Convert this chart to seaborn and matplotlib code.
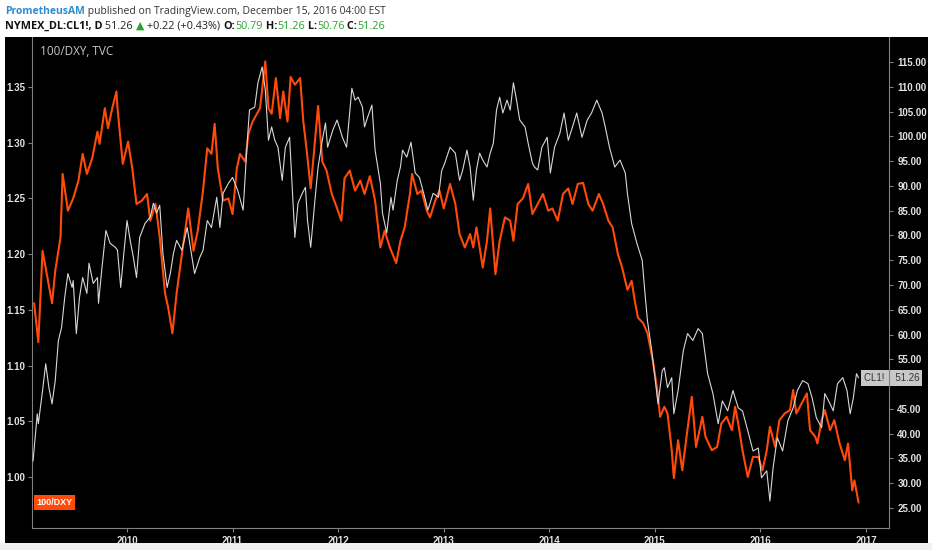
import numpy as np
import seaborn as sns
import matplotlib.pyplot as plt
from matplotlib.patches import Rectangle

# 100/DXY (left axis), decimal years
dxy_t = [2009.12, 2009.16, 2009.20, 2009.24, 2009.29, 2009.32, 2009.37, 2009.39, 2009.44, 2009.49, 2009.54,
         2009.58, 2009.62, 2009.67, 2009.72, 2009.74, 2009.79, 2009.82, 2009.86, 2009.90, 2009.91, 2009.96,
         2010.01, 2010.05, 2010.09, 2010.14, 2010.19, 2010.22, 2010.27, 2010.31, 2010.36, 2010.39, 2010.43,
         2010.47, 2010.52, 2010.58, 2010.63, 2010.67, 2010.72, 2010.76, 2010.80, 2010.83, 2010.86, 2010.91, 2010.96,
         2011.00, 2011.04, 2011.07, 2011.12, 2011.15, 2011.19, 2011.26, 2011.31, 2011.34, 2011.37, 2011.41, 2011.45,
         2011.48, 2011.52, 2011.55, 2011.59, 2011.64, 2011.67, 2011.70, 2011.74, 2011.78, 2011.81, 2011.85, 2011.89,
         2011.94, 2011.99,
         2012.03, 2012.06, 2012.11, 2012.16, 2012.21, 2012.25, 2012.30, 2012.35, 2012.40, 2012.44, 2012.49,
         2012.55, 2012.59, 2012.63, 2012.68, 2012.70, 2012.75, 2012.79, 2012.84, 2012.87, 2012.92, 2012.96,
         2013.00, 2013.06, 2013.11, 2013.15, 2013.20, 2013.25, 2013.28, 2013.31, 2013.34, 2013.37, 2013.41,
         2013.44, 2013.47, 2013.49, 2013.53, 2013.58, 2013.63, 2013.66, 2013.70, 2013.75, 2013.80, 2013.84,
         2013.89, 2013.94, 2013.99,
         2014.03, 2014.08, 2014.13, 2014.18, 2014.22, 2014.27, 2014.32, 2014.37, 2014.41, 2014.47, 2014.51,
         2014.56, 2014.60, 2014.65, 2014.69, 2014.74, 2014.78, 2014.81, 2014.84, 2014.89, 2014.93, 2014.98,
         2015.02, 2015.05, 2015.09, 2015.12, 2015.16, 2015.18, 2015.22, 2015.26, 2015.30, 2015.35, 2015.39,
         2015.45, 2015.48, 2015.54, 2015.59, 2015.63, 2015.68, 2015.73, 2015.76, 2015.79, 2015.83, 2015.88,
         2015.93, 2015.98,
         2016.02, 2016.06, 2016.09, 2016.14, 2016.18, 2016.23, 2016.28, 2016.31, 2016.34, 2016.39, 2016.44,
         2016.47, 2016.52, 2016.54, 2016.58, 2016.61, 2016.66, 2016.70, 2016.75, 2016.80, 2016.83, 2016.87,
         2016.89, 2016.93]
dxy_v = [1.156, 1.121, 1.203, 1.182, 1.156, 1.185, 1.215, 1.272, 1.239, 1.250, 1.266,
         1.290, 1.272, 1.286, 1.310, 1.299, 1.331, 1.313, 1.331, 1.346, 1.331, 1.281,
         1.301, 1.277, 1.245, 1.248, 1.254, 1.230, 1.245, 1.215, 1.165, 1.152, 1.129,
         1.165, 1.200, 1.241, 1.203, 1.221, 1.257, 1.295, 1.290, 1.317, 1.277, 1.248, 1.250,
         1.236, 1.277, 1.290, 1.283, 1.308, 1.319, 1.331, 1.373, 1.331, 1.326, 1.358, 1.322,
         1.346, 1.319, 1.359, 1.352, 1.358, 1.319, 1.295, 1.259, 1.301, 1.333, 1.283, 1.275,
         1.254, 1.241,
         1.230, 1.268, 1.275, 1.257, 1.266, 1.254, 1.270, 1.248, 1.206, 1.221, 1.206,
         1.192, 1.212, 1.224, 1.254, 1.272, 1.254, 1.257, 1.239, 1.233, 1.248, 1.257,
         1.241, 1.263, 1.245, 1.218, 1.206, 1.218, 1.206, 1.224, 1.206, 1.188, 1.212,
         1.241, 1.206, 1.182, 1.212, 1.233, 1.230, 1.212, 1.245, 1.250, 1.263, 1.236,
         1.245, 1.254, 1.239,
         1.241, 1.230, 1.254, 1.259, 1.245, 1.263, 1.264, 1.245, 1.239, 1.254, 1.245,
         1.230, 1.224, 1.200, 1.188, 1.168, 1.176, 1.158, 1.143, 1.138, 1.129, 1.105,
         1.080, 1.054, 1.063, 1.057, 1.024, 0.999, 1.033, 1.006, 1.036, 1.072, 1.027,
         1.054, 1.036, 1.024, 1.027, 1.048, 1.054, 1.042, 1.063, 1.048, 1.024, 1.000,
         1.018, 1.018,
         1.006, 1.024, 1.045, 1.027, 1.051, 1.057, 1.060, 1.078, 1.057, 1.066, 1.075,
         1.042, 1.036, 1.030, 1.051, 1.060, 1.042, 1.051, 1.030, 1.015, 1.030, 0.988,
         0.997, 0.977]

# NYMEX_DL:CL1! (right axis)
cl_t = [2009.11, 2009.15, 2009.16, 2009.20, 2009.23, 2009.26, 2009.29, 2009.32, 2009.35, 2009.38,
        2009.41, 2009.44, 2009.48, 2009.49, 2009.52, 2009.55, 2009.58, 2009.62, 2009.64, 2009.68,
        2009.72, 2009.73, 2009.76, 2009.80, 2009.84, 2009.89, 2009.91, 2009.94, 2009.97,
        2010.00, 2010.03, 2010.06, 2010.09, 2010.12, 2010.17, 2010.22, 2010.25, 2010.28, 2010.31,
        2010.34, 2010.38, 2010.41, 2010.44, 2010.47, 2010.52, 2010.57, 2010.60, 2010.64, 2010.69,
        2010.72, 2010.76, 2010.80, 2010.85, 2010.88, 2010.91, 2010.96,
        2011.00, 2011.05, 2011.10, 2011.14, 2011.16, 2011.21, 2011.24, 2011.28, 2011.31, 2011.34,
        2011.37, 2011.40, 2011.43, 2011.47, 2011.50, 2011.54, 2011.59, 2011.62, 2011.66, 2011.69,
        2011.71, 2011.74, 2011.78, 2011.81, 2011.85, 2011.88, 2011.90, 2011.95, 2011.99,
        2012.04, 2012.08, 2012.13, 2012.16, 2012.19, 2012.23, 2012.25, 2012.28, 2012.32, 2012.35,
        2012.40, 2012.42, 2012.46, 2012.50, 2012.52, 2012.56, 2012.59, 2012.61, 2012.65, 2012.69,
        2012.73, 2012.77, 2012.82, 2012.85, 2012.90, 2012.95, 2012.98,
        2013.01, 2013.06, 2013.11, 2013.15, 2013.18, 2013.22, 2013.25, 2013.28, 2013.31, 2013.34,
        2013.37, 2013.41, 2013.44, 2013.47, 2013.50, 2013.53, 2013.56, 2013.60, 2013.63, 2013.66,
        2013.69, 2013.72, 2013.77, 2013.80, 2013.84, 2013.86, 2013.89, 2013.93, 2013.98,
        2014.01, 2014.05, 2014.10, 2014.14, 2014.18, 2014.22, 2014.26, 2014.31, 2014.36, 2014.40,
        2014.45, 2014.50, 2014.53, 2014.57, 2014.62, 2014.67, 2014.72, 2014.74, 2014.78, 2014.83,
        2014.88, 2014.91, 2014.93, 2014.97,
        2015.00, 2015.03, 2015.07, 2015.09, 2015.12, 2015.16, 2015.18, 2015.22, 2015.27, 2015.31,
        2015.36, 2015.41, 2015.45, 2015.50, 2015.55, 2015.60, 2015.64, 2015.69, 2015.74, 2015.79,
        2015.83, 2015.88, 2015.93, 2015.98,
        2016.01, 2016.06, 2016.09, 2016.12, 2016.16, 2016.21, 2016.26, 2016.31, 2016.35, 2016.40,
        2016.45, 2016.49, 2016.53, 2016.58, 2016.61, 2016.66, 2016.69, 2016.73, 2016.78, 2016.82,
        2016.85, 2016.88, 2016.91, 2016.93]
cl_v = [34.5, 44.0, 42.0, 48.7, 54.1, 49.3, 46.0, 50.7, 58.8, 61.4,
        67.5, 72.3, 69.5, 70.9, 60.2, 67.5, 71.5, 68.3, 74.4, 70.3,
        71.5, 66.3, 72.9, 81.0, 78.4, 77.6, 77.0, 69.5, 76.4,
        83.0, 79.0, 75.6, 71.5, 79.6, 82.4, 83.7, 86.5, 84.5, 86.1,
        76.4, 69.5, 72.3, 76.4, 79.0, 77.0, 81.6, 77.6, 72.3, 75.6,
        77.0, 83.0, 81.6, 87.7, 81.6, 88.5, 90.5,
        91.7, 89.0, 85.1, 99.2, 105.3, 105.9, 110.8, 114.0, 109.3, 99.2,
        101.9, 99.2, 97.8, 91.1, 97.8, 99.8, 79.6, 86.5, 88.5, 89.7,
        83.0, 77.6, 87.1, 93.8, 99.2, 102.7, 97.8, 101.3, 103.3,
        99.8, 97.8, 109.7, 107.3, 107.9, 105.9, 101.9, 103.9, 106.3, 97.2,
        90.5, 84.5, 80.5, 87.7, 85.1, 91.1, 93.8, 97.2, 95.8, 98.8,
        92.6, 91.7, 87.7, 85.1, 88.5, 87.7, 93.0,
        94.6, 97.8, 96.6, 91.1, 93.2, 97.2, 93.8, 87.1, 93.2, 96.6,
        95.2, 93.8, 96.6, 98.6, 105.3, 107.9, 104.7, 107.3, 105.3, 110.8,
        107.3, 103.3, 101.9, 98.6, 94.6, 93.8, 93.2, 97.8, 99.8,
        92.6, 97.8, 100.6, 104.7, 99.2, 101.9, 104.7, 99.8, 103.3, 104.7,
        107.3, 104.7, 101.9, 97.8, 93.8, 95.2, 92.6, 88.5, 82.4, 78.4,
        75.0, 67.5, 62.8, 56.8,
        51.5, 46.0, 52.7, 53.3, 49.3, 51.3, 44.0, 48.7, 56.8, 60.2,
        58.8, 61.2, 60.2, 52.1, 48.1, 42.0, 46.6, 44.6, 48.7, 45.2,
        44.6, 40.6, 36.5, 37.1,
        31.1, 32.5, 26.4, 33.1, 39.2, 36.5, 42.6, 45.2, 48.7, 50.7,
        50.1, 47.2, 43.2, 41.2, 48.1, 46.0, 44.6, 50.1, 51.3, 48.7,
        44.0, 47.2, 52.1, 51.26]

year_ticks = [2010, 2011, 2012, 2013, 2014, 2015, 2016, 2017]
left_ticks = [1.00, 1.05, 1.10, 1.15, 1.20, 1.25, 1.30, 1.35]
right_ticks = list(range(25, 116, 5))

sns.set_style("ticks")
plt.rcParams['font.family'] = ['Open Sans', 'DejaVu Sans']

W, H = 932, 550
fig = plt.figure(figsize=(W / 100, H / 100), dpi=100, facecolor='white')

# background layer: black chart area + header text
bg = fig.add_axes([0, 0, 1, 1])
bg.set_xlim(0, 1)
bg.set_ylim(0, 1)
bg.axis('off')
bg.add_patch(Rectangle((0, 0), 1, 7 / H, color='#eef0f3', lw=0))
bg.add_patch(Rectangle((5 / W, 7 / H), 923 / W, 506 / H, color='black', lw=0))

hdr = dict(fontsize=7.5, va='bottom', ha='left')
t = bg.text(5 / W, 1 - 17 / H, 'PrometheusAM', color='#2d8bd0', fontweight='bold', **hdr)
bg.annotate(' published on TradingView.com, December 15, 2016 04:00 EST', xy=(1, 0), xycoords=t,
            color='#333333', **hdr)

green = '#26a42b'
parts = [('NYMEX_DL:CL1!, D', '#111111', 'bold'), (' 51.26 ', '#222222', 'normal'),
         ('▲', green, 'normal'), (' +0.22 (+0.43%) ', '#222222', 'normal'),
         ('O:', '#111111', 'bold'), ('50.79', green, 'normal'),
         (' H:', '#111111', 'bold'), ('51.26', green, 'normal'),
         (' L:', '#111111', 'bold'), ('50.76', green, 'normal'),
         (' C:', '#111111', 'bold'), ('51.26', green, 'normal')]
line2 = dict(fontsize=7.8, va='bottom', ha='left')
prev = bg.text(5 / W, 1 - 32 / H, parts[0][0], color=parts[0][1], fontweight=parts[0][2], **line2)
for txt, col, wt in parts[1:]:
    prev = bg.annotate(txt, xy=(1, 0), xycoords=prev, color=col, fontweight=wt, **line2)

# main chart
ax = fig.add_axes([32 / W, 22 / H, 857 / W, 491 / H])
ax.set_facecolor('black')
ax2 = ax.twinx()

sns.lineplot(x=dxy_t, y=dxy_v, ax=ax, color='#ff4a0a', linewidth=1.5)
sns.lineplot(x=cl_t, y=cl_v, ax=ax2, color='#d8d8d8', linewidth=0.8)

ax.set_xlim(2009.10, 2017.218)
ax.set_ylim(0.9542, 1.3949)
ax2.set_ylim(20.96, 120.04)

tick_font = dict(fontsize=7, fontweight='bold', family='Liberation Sans')
ax.set_xticks(year_ticks, labels=[str(y) for y in year_ticks], **tick_font)
ax.set_yticks(left_ticks, labels=[f'{v:.2f}' for v in left_ticks], **tick_font)
# the 50.00 label sits under the CL1! last-price badge
ax2.set_yticks(right_ticks, labels=['' if v == 50 else f'{v:.2f}' for v in right_ticks], **tick_font)

for a in (ax, ax2):
    a.set_xlabel('')
    a.set_ylabel('')
    for s in a.spines.values():
        s.set_visible(False)
    a.tick_params(color='#808080', labelcolor='#e2e2e2', length=3, width=0.8)
ax.spines['left'].set_visible(True)
ax.spines['bottom'].set_visible(True)
ax2.spines['right'].set_visible(True)
for s in (ax.spines['left'], ax.spines['bottom'], ax2.spines['right']):
    s.set_color('#808080')
    s.set_linewidth(0.8)
ax.tick_params(axis='y', pad=2)
ax.tick_params(axis='x', pad=3)
ax2.tick_params(axis='y', pad=3)

ax.text(8 / 857, 0.9695, '100/DXY, TVC', transform=ax.transAxes, color='#c8c8c8',
        fontsize=8.5, va='center', ha='left')

# last-value badges
ax.text(0.005, dxy_v[-1], '100/DXY', transform=ax.get_yaxis_transform(), color='white',
        fontsize=6.5, fontweight='bold', family='Liberation Sans', va='center', ha='left',
        bbox=dict(boxstyle='square,pad=0.3', fc='#ff4a0a', ec='none'))
ax2.text(0.9705, cl_v[-1], 'CL1!    51.26', transform=ax2.get_yaxis_transform(), color='#333333',
         fontsize=7, family='Liberation Sans', va='center', ha='left', clip_on=False, zorder=2,
         bbox=dict(boxstyle='square,pad=0.3', fc='#c8c8c8', ec='none'))

fig.savefig('out.png', dpi=100, facecolor=fig.get_facecolor())
